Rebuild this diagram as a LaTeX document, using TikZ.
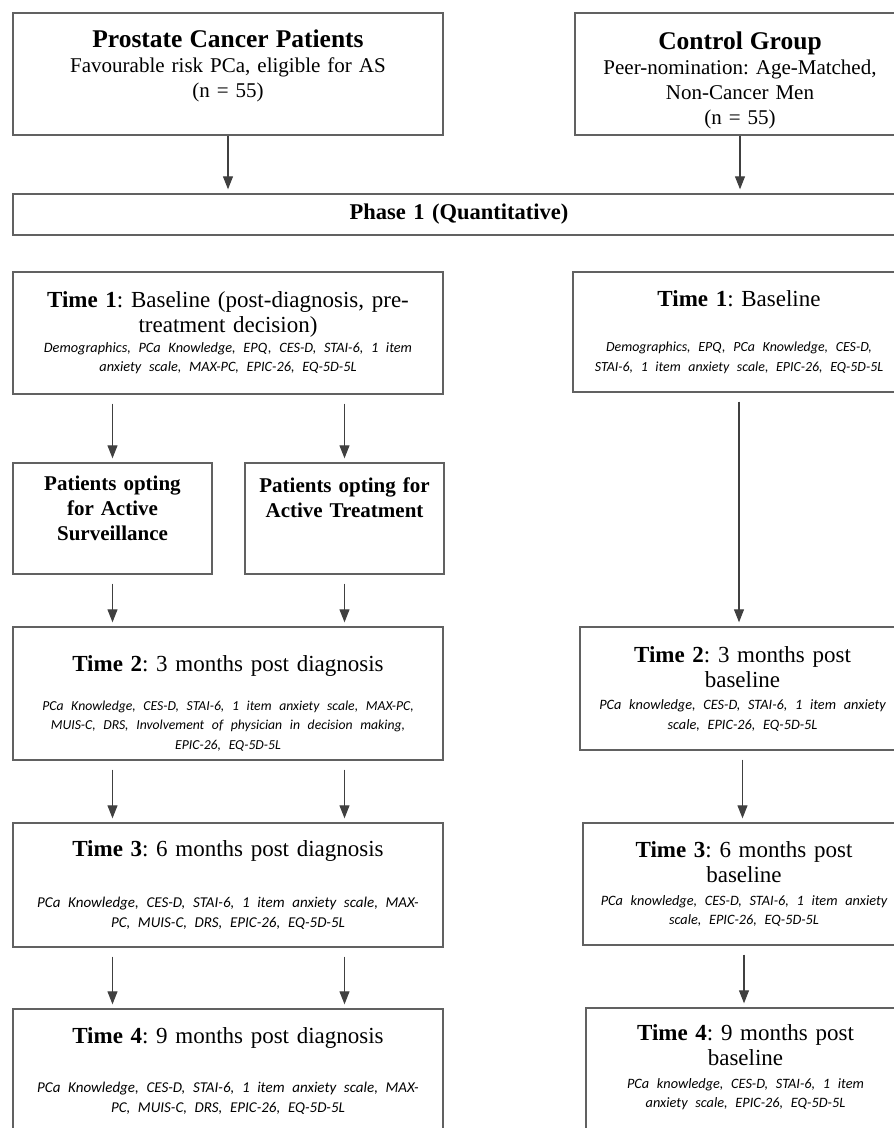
\documentclass[tikz,border=0pt]{standalone}
\usepackage{fontspec}
\setmainfont{Liberation Serif}
\newfontfamily\calibri{Carlito}
\usetikzlibrary{arrows.meta,calc,positioning}
\definecolor{boxgray}{rgb}{0.38,0.38,0.38}
\definecolor{arrowgray}{rgb}{0.25,0.25,0.25}
\frenchspacing
\newcommand{\measures}[2][14.3]{{\calibri\itshape\fontsize{#1}{19.5}\selectfont #2\par}}
\tikzset{
  group/.style={
    draw=boxgray,
    line width=1.4pt,
    align=center,
    inner sep=0pt,
    font=\fontsize{21}{25}\selectfont
  },
  stage/.style={
    draw=boxgray,
    line width=1.4pt,
    align=center,
    inner sep=0pt,
    font=\fontsize{23}{25}\selectfont
  },
  choice/.style={
    draw=boxgray,
    line width=1.4pt,
    align=center,
    inner sep=0pt,
    text width=190pt,
    minimum width=199pt,
    minimum height=111pt,
    font=\fontsize{21}{25}\selectfont\bfseries
  },
  arrow/.style={
    -{Triangle[length=13pt,width=10pt]},
    line width=1.1pt,
    arrowgray,
    shorten <=9pt,
    shorten >=4pt
  }
}

\begin{document}
\begin{tikzpicture}[x=1pt,y=-1pt]
\fill[white] (0,0) rectangle (894,1128);
\useasboundingbox (0,0) rectangle (894,1128);
% study groups
\node[group, text width=410pt, minimum width=430pt, minimum height=122pt] (pca) at (228,74) {{\bfseries\fontsize{25.5}{26}\selectfont Prostate Cancer Patients\par}Favourable risk PCa, eligible for AS\\(n = 55)\rule[-20pt]{0pt}{20pt}};
\node[group, text width=310pt, minimum width=330pt, minimum height=122pt] (ctl) at (740,74) {{\bfseries\fontsize{25.5}{26}\selectfont\rule{0pt}{30pt}Control Group\par}Peer-nomination: Age-Matched,\\Non-Cancer Men\\(n = 55)};
\node[group, text width=860pt, minimum width=892pt, minimum height=41pt, font=\fontsize{22.5}{24}\selectfont\bfseries] (ph1) at (459,214.5) {Phase 1 (Quantitative)};
% patients column
\node[stage, text width=420pt, minimum width=430pt, minimum height=122pt] (t1p) at (228,333) {\textbf{Time 1}: Baseline (post-diagnosis, pre-\\treatment decision)\par\measures{Demographics, PCa Knowledge, EPQ, CES-D, STAI-6, 1 item\\anxiety scale, MAX-PC, EPIC-26, EQ-5D-5L}};
\node[choice] (as) at (112.5,518.5) {Patients opting\\for Active\\Surveillance\rule[-21pt]{0pt}{21pt}};
\node[choice] (at) at (344.5,518.5) {Patients opting for\\Active Treatment\\\rule[-16pt]{0pt}{16pt}};
\node[stage, text width=420pt, minimum width=430pt, minimum height=133pt] (t2p) at (228,693.5) {\rule{0pt}{36pt}\textbf{Time 2}: 3 months post diagnosis\par\vspace{19pt}\measures[13.7]{PCa Knowledge, CES-D, STAI-6, 1 item anxiety scale, MAX-PC,\\MUIS-C, DRS, Involvement of physician in decision making,\\EPIC-26, EQ-5D-5L}};
\node[stage, text width=420pt, minimum width=430pt, minimum height=124pt] (t3p) at (228,885) {\textbf{Time 3}: 6 months post diagnosis\par\vspace{32pt}\measures[15]{PCa Knowledge, CES-D, STAI-6, 1 item anxiety scale, MAX-\\PC, MUIS-C, DRS, EPIC-26, EQ-5D-5L}};
\node[stage, text width=420pt, minimum width=430pt, minimum height=131pt] (t4p) at (228,1074.5) {\textbf{Time 4}: 9 months post diagnosis\par\vspace{30pt}\measures[15]{PCa Knowledge, CES-D, STAI-6, 1 item anxiety scale, MAX-\\PC, MUIS-C, DRS, EPIC-26, EQ-5D-5L\rule[-9pt]{0pt}{9pt}}};
% control column
\node[stage, text width=312pt, minimum width=332pt, minimum height=120pt] (t1c) at (739,332) {\textbf{Time 1}: Baseline\par\vspace{26pt}\measures[13.9]{Demographics, EPQ, PCa Knowledge, CES-D,\\STAI-6, 1 item anxiety scale, EPIC-26, EQ-5D-5L}};
\node[stage, text width=305pt, minimum width=325pt, minimum height=123pt] (t2c) at (742.5,688.5) {\textbf{Time 2}: 3 months post\\baseline\par\vspace{3pt}\measures{PCa knowledge, CES-D, STAI-6, 1 item anxiety\\scale, EPIC-26, EQ-5D-5L}};
\node[stage, text width=302pt, minimum width=322pt, minimum height=122pt] (t3c) at (744,884) {\textbf{Time 3}: 6 months post\\baseline\par\vspace{3pt}\measures{PCa knowledge, CES-D, STAI-6, 1 item anxiety\\scale, EPIC-26, EQ-5D-5L}};
\node[stage, text width=299pt, minimum width=319pt, minimum height=132pt] (t4c) at (745.5,1074) {\textbf{Time 4}: 9 months post\\baseline\par\vspace{3pt}\measures{PCa knowledge, CES-D, STAI-6, 1 item\\anxiety scale, EPIC-26, EQ-5D-5L\rule[-15pt]{0pt}{15pt}}};
% arrows
\draw[arrow, shorten <=0pt] (pca.south) -- (pca.south |- ph1.north);
\draw[arrow, shorten <=0pt] (ctl.south) -- (ctl.south |- ph1.north);
\draw[arrow] (as.north |- t1p.south) -- (as.north);
\draw[arrow] (at.north |- t1p.south) -- (at.north);
\draw[arrow] (as.south) -- (as.south |- t2p.north);
\draw[arrow] (at.south) -- (at.south |- t2p.north);
\draw[arrow] (as.south |- t2p.south) -- (as.south |- t3p.north);
\draw[arrow] (at.south |- t2p.south) -- (at.south |- t3p.north);
\draw[arrow] (as.south |- t3p.south) -- (as.south |- t4p.north);
\draw[arrow] (at.south |- t3p.south) -- (at.south |- t4p.north);
\draw[arrow] (t1c.south) -- (t1c.south |- t2c.north);
\draw[arrow] (t2c.south) -- (t2c.south |- t3c.north);
\draw[arrow] (t3c.south) -- (t3c.south |- t4c.north);
\end{tikzpicture}
\end{document}
